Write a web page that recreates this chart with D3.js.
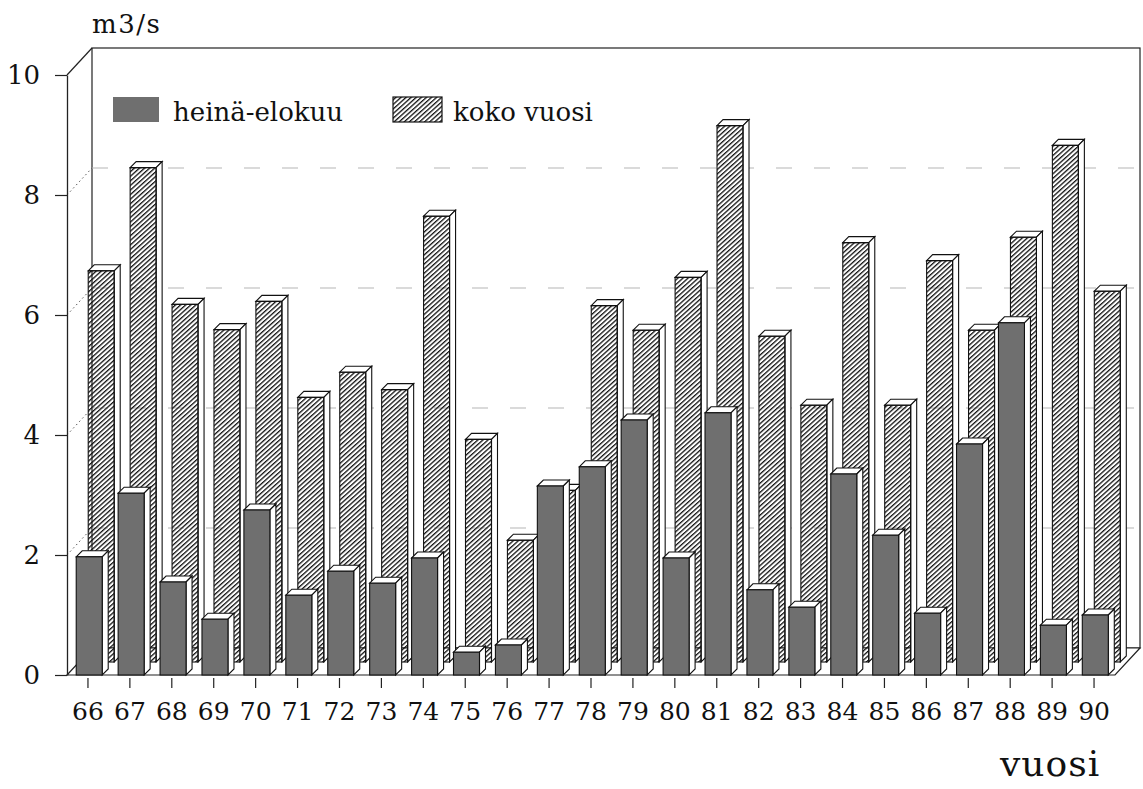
<!DOCTYPE html>
<html>
<head>
<meta charset="utf-8">
<script src="https://cdn.jsdelivr.net/npm/d3@7"></script>
<style>
  html, body { margin: 0; padding: 0; background: #fff; }
  svg { display: block; }
  text { font-family: "DejaVu Serif", "Liberation Serif", serif; fill: #111; }
</style>
</head>
<body>
<svg id="chart" width="1143" height="789"></svg>
<script>
// Vuodet (x-akseli)
const years = ["66","67","68","69","70","71","72","73","74","75","76","77","78",
               "79","80","81","82","83","84","85","86","87","88","89","90"];
// Keskivirtaama heinä–elokuussa, m3/s
const heinaElokuu = [1.97, 3.03, 1.55, 0.93, 2.75, 1.33, 1.73, 1.53, 1.95, 0.38,
                     0.50, 3.15, 3.47, 4.25, 1.95, 4.37, 1.42, 1.13, 3.35, 2.33,
                     1.03, 3.85, 5.87, 0.83, 1.00];
// Keskivirtaama koko vuodelta, m3/s
const kokoVuosi = [6.52, 8.24, 5.96, 5.54, 6.01, 4.41, 4.83, 4.54, 7.43, 3.71,
                   2.03, 2.86, 5.94, 5.53, 6.41, 8.94, 5.43, 4.28, 6.99, 4.28,
                   6.69, 5.53, 7.08, 8.61, 6.18];
const yTicks = [0, 2, 4, 6, 8, 10];
const seriesNames = ["heinä-elokuu", "koko vuosi"];

const svg = d3.select("#chart");

// Etutaso: x- ja y-asteikot
const x = d3.scaleBand().domain(years).range([67, 1115]);
const y = d3.scaleLinear().domain([0, 10]).range([675, 75]);

// Kolmiulotteisen laatikon syvyys
const DX = 25, DY = -27;

const defs = svg.append("defs");
defs.append("pattern")
  .attr("id", "hatch")
  .attr("patternUnits", "userSpaceOnUse")
  .attr("width", 3.4).attr("height", 3.4)
  .attr("patternTransform", "rotate(-42)")
  .append("rect")
  .attr("x", 0).attr("y", 0).attr("width", 3.4).attr("height", 1.3)
  .attr("fill", "#111");

const GRAY = "#6f6f6f";

// Takaseinä
const x0 = x.range()[0], x1 = x.range()[1];
const yb = y(0), yt = y(10);
svg.append("rect")
  .attr("x", x0 + DX).attr("y", yt + DY)
  .attr("width", x1 - x0).attr("height", yb - yt)
  .attr("fill", "none").attr("stroke", "#222").attr("stroke-width", 1.2);

// Apuviivat takaseinällä ja vasemmalla seinällä
const gridVals = yTicks.filter(v => v > 0 && v < 10);
svg.append("g").selectAll("line").data(gridVals).join("line")
  .attr("x1", x0 + DX).attr("x2", x1 + DX)
  .attr("y1", d => y(d) + DY).attr("y2", d => y(d) + DY)
  .attr("stroke", "#b5b5b5").attr("stroke-width", 1)
  .attr("stroke-dasharray", "16,22");
svg.append("g").selectAll("line").data(gridVals).join("line")
  .attr("x1", x0).attr("x2", x0 + DX)
  .attr("y1", d => y(d)).attr("y2", d => y(d) + DY)
  .attr("stroke", "#555").attr("stroke-width", 1)
  .attr("stroke-dasharray", "1.5,3");

// Lattia ja laatikon reunat
svg.append("path")
  .attr("d", `M${x0},${yb} L${x1},${yb} L${x1 + DX},${yb + DY} L${x0 + DX},${yb + DY} Z`)
  .attr("fill", "#fff").attr("stroke", "#222").attr("stroke-width", 1.2);
svg.append("line")
  .attr("x1", x0).attr("y1", yt).attr("x2", x0 + DX).attr("y2", yt + DY)
  .attr("stroke", "#222").attr("stroke-width", 1.2);

// Pylväiden mitat
const bw = x.bandwidth();
const barOff = bw * 0.22, barW = bw * 0.62;
const bDX = 6, bDY = -6;        // pylvään oma syvyys
const rowDX = 12, rowDY = -13;  // takarivin siirtymä

function bar3d(g, px, yTop, yBot, frontFill) {
  g.append("path")
    .attr("d", `M${px},${yTop} L${px + bDX},${yTop + bDY} L${px + barW + bDX},${yTop + bDY} L${px + barW},${yTop} Z`)
    .attr("fill", "#fff").attr("stroke", "#111").attr("stroke-width", 1.1);
  g.append("path")
    .attr("d", `M${px + barW},${yTop} L${px + barW + bDX},${yTop + bDY} L${px + barW + bDX},${yBot + bDY} L${px + barW},${yBot} Z`)
    .attr("fill", "#fff").attr("stroke", "#111").attr("stroke-width", 1.1);
  g.append("rect")
    .attr("x", px).attr("y", yTop).attr("width", barW).attr("height", yBot - yTop)
    .attr("fill", frontFill).attr("stroke", "#111").attr("stroke-width", 1.1);
}

// Takarivi: koko vuosi
const back = svg.append("g");
years.forEach((yr, i) => {
  const px = x(yr) + barOff + rowDX;
  bar3d(back, px, y(kokoVuosi[i]) + rowDY, y(0) + rowDY, "url(#hatch)");
});

// Eturivi: heinä–elokuu
const front = svg.append("g");
years.forEach((yr, i) => {
  const px = x(yr) + barOff;
  bar3d(front, px, y(heinaElokuu[i]), y(0), GRAY);
});

// Y-akseli
const yAxis = svg.append("g")
  .attr("transform", `translate(${x0},0)`)
  .call(d3.axisLeft(y).tickValues(yTicks).tickSize(12).tickSizeOuter(0).tickPadding(15).tickFormat(d3.format("d")));
yAxis.select(".domain").attr("stroke", "#222").attr("stroke-width", 1.3);
yAxis.selectAll(".tick line").attr("stroke", "#222").attr("stroke-width", 1.2);
yAxis.selectAll(".tick text").style("font-family", "DejaVu Serif").style("font-size", "26px").attr("fill", "#111");

// X-akseli
const xAxis = svg.append("g")
  .attr("transform", `translate(0,${yb + 3})`)
  .call(d3.axisBottom(x).tickSize(10).tickSizeOuter(0).tickPadding(14));
xAxis.select(".domain").remove();
xAxis.selectAll(".tick line").attr("stroke", "#222").attr("stroke-width", 1.2);
xAxis.selectAll(".tick text").style("font-family", "DejaVu Serif").style("font-size", "25px").attr("fill", "#111");

// Akselien nimet
svg.append("text").attr("x", 92).attr("y", 33)
  .style("font-size", "26px").style("letter-spacing", "1.5px").text("m3/s");
svg.append("text").attr("x", 1000).attr("y", 776)
  .style("font-size", "36px").style("letter-spacing", "1px").text("vuosi");

// Selite
const legend = svg.append("g");
legend.append("rect").attr("x", 113).attr("y", 97).attr("width", 46).attr("height", 25)
  .attr("fill", GRAY);
legend.append("text").attr("x", 173).attr("y", 121).style("font-size", "26px").text(seriesNames[0]);
legend.append("rect").attr("x", 393).attr("y", 97).attr("width", 49).attr("height", 25)
  .attr("fill", "url(#hatch)").attr("stroke", "#111").attr("stroke-width", 1.2);
legend.append("text").attr("x", 453).attr("y", 121).style("font-size", "26px").text(seriesNames[1]);
</script>
</body>
</html>
